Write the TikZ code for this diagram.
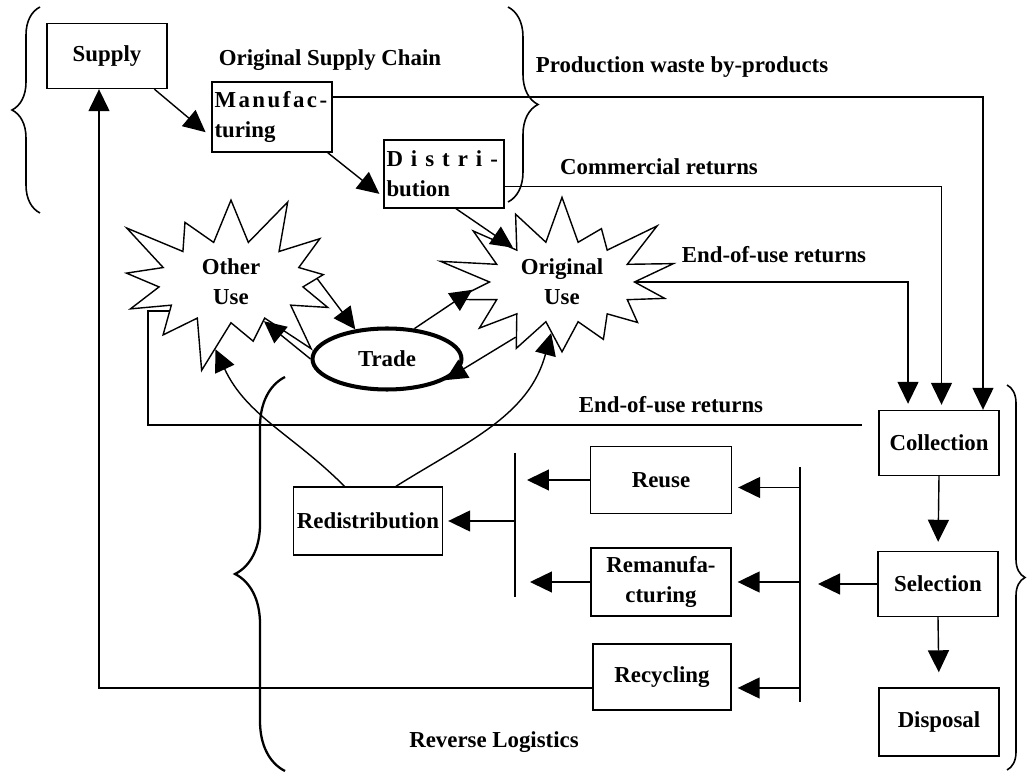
\documentclass[tikz,border=0pt]{standalone}
\usepackage{fontspec}
\setmainfont{Liberation Serif}
\usetikzlibrary{arrows.meta,shapes.symbols,shapes.geometric,decorations.pathreplacing}

\begin{document}
\begin{tikzpicture}[x=0.02cm,y=-0.02cm,
    every node/.style={font=\bfseries\fontsize{13}{17}\selectfont},
    box/.style={draw,line width=0.8pt,minimum width=2.4cm,minimum height=1.3cm,inner sep=1pt},
    arr/.style={line width=0.8pt,-{Triangle[length=0.44cm,width=0.42cm]}},
    thinln/.style={line width=0.8pt},
    burst/.style={draw,line width=0.8pt,starburst,starburst points=13,starburst point height=1.15cm,
        minimum width=5.2cm,minimum height=3.3cm,align=center},
    brc/.style={line width=0.9pt,decorate,decoration={brace,amplitude=#1}}]
    \useasboundingbox (0,0) rectangle (1028,776);

    % original supply chain
    \node[box] (supply) at (107,56) {Supply};
    \node[box,minimum height=1.4cm,text width=2.3cm,align=left] (manuf) at (272,117)
        {{\addfontfeatures{LetterSpace=11}Manufac-}\\turing};
    \node[box,minimum height=1.36cm,text width=2.3cm,align=left] (distr) at (444,174)
        {{\addfontfeatures{LetterSpace=35}Distri-}\\bution};
    \node (osc) at (330,60) {Original Supply Chain};

    % uses and trade
    \node[burst,random starburst=100] (other) at (231,282) {Other\\Use};
    \node[burst,random starburst=57,starburst points=14] (orig) at (562,282) {Original\\Use};
    \node[draw,ellipse,line width=2.3pt,minimum width=2.98cm,minimum height=1.22cm] (trade) at (387,359) {Trade};

    % reverse logistics
    \node[box] (coll) at (939,443) {Collection};
    \node[box] (sel) at (938,584) {Selection};
    \node[box,minimum height=1.36cm] (disp) at (939,722) {Disposal};
    \node[box,minimum width=2.82cm,minimum height=1.34cm] (reuse) at (661,480) {Reuse};
    \node[box,minimum width=2.8cm,minimum height=1.36cm,align=center] (reman) at (661,582) {Remanufa-\\cturing};
    \node[box,minimum width=2.76cm,minimum height=1.32cm] (recyc) at (662,677) {Recycling};
    \node[box,minimum width=2.98cm,minimum height=1.36cm] (redis) at (368,521) {Redistribution};

    % labels
    \node (pw) at (682,67) {Production waste by-products};
    \node (cr) at (659,167) {Commercial returns};
    \node (eu1) at (774,255) {End-of-use returns};
    \node (eu2) at (671,405) {End-of-use returns};
    \node (rl) at (494,742) {Reverse Logistics};

    % bars
    \coordinate (lbt) at (515,453);
    \coordinate (lbb) at (515,597);
    \coordinate (rbt) at (800,467);
    \coordinate (rbb) at (800,702);
    \draw[thinln] (lbt) -- (lbb);
    \draw[thinln] (rbt) -- (rbb);

    % forward flow
    \draw[arr,shorten >=0.15cm] (supply.-35) -- ([yshift=-0.4cm]manuf.west);
    \draw[arr,shorten >=0.1cm] ([xshift=-0.1cm]manuf.south east) -- ([yshift=-0.46cm]distr.west);
    \draw[arr] ([xshift=0.24cm]distr.south) -- (orig.145);
    \draw[arr] (other.2) -- (trade.137);
    \draw[arr] (trade.48) -- (orig.185);
    \draw[arr] (trade.west) -- (other.-50);
    \draw[arr] (orig.230) -- (trade.-20);

    % returns to collection
    \coordinate (wout) at ([yshift=0.4cm]manuf.east);
    \coordinate (cout) at ([yshift=-0.25cm]distr.east);
    \draw[arr] (wout) -| ([xshift=0.88cm]coll.north);
    \draw[arr,shorten >=0.1cm] (cout) -| ([xshift=0.05cm]coll.north);
    \draw[arr,shorten >=0.12cm] (orig.east) -| ([xshift=-0.62cm]coll.north);
    \coordinate (eolcorner) at (148,425);
    \coordinate (eolend) at (862,425);
    \draw[thinln] (other.205) -| (eolcorner) -- (eolend);

    % selection and options
    \draw[arr,shorten >=0.18cm] (coll.south) -- (sel.north);
    \draw[arr,shorten >=0.3cm] (sel.south) -- (disp.north);
    \draw[arr,shorten >=0.36cm] (sel.west) -- (sel.west -| rbt);
    \coordinate (reuin) at ([yshift=-0.15cm]reuse.east);
    \coordinate (recin) at ([yshift=-0.22cm]recyc.east);
    \draw[arr,shorten >=0.12cm] (rbt |- reuin) -- (reuin);
    \draw[arr,shorten >=0.12cm] (rbt |- reman.east) -- (reman.east);
    \draw[arr,shorten >=0.12cm] (rbt |- recin) -- (recin);
    \draw[arr,shorten >=0.24cm] (reuse.west) -- (reuse.west -| lbt);
    \draw[arr,shorten >=0.3cm] (reman.west) -- (reman.west -| lbt);
    \draw[arr,shorten >=0.1cm] (redis.east -| lbt) -- (redis.east);

    % back to uses and supply
    \draw[arr] ([xshift=-0.47cm]redis.north) to[out=135,in=-65] (other.257);
    \draw[arr] ([xshift=0.56cm]redis.north) to[out=32,in=-105] (orig.258);
    \coordinate (recout) at ([yshift=-0.22cm]recyc.west);
    \draw[arr] (recout) -| ([xshift=-0.16cm]supply.south);

    % braces
    \draw[brc=0.56cm] (40,213) -- (40,7);
    \draw[brc=0.6cm] (508,7) -- (508,202);
    \draw[brc=1cm,line width=1.3pt] (285,771) -- (285,377);
    \draw[brc=0.36cm] (1007,385) -- (1007,770);
\end{tikzpicture}
\end{document}
